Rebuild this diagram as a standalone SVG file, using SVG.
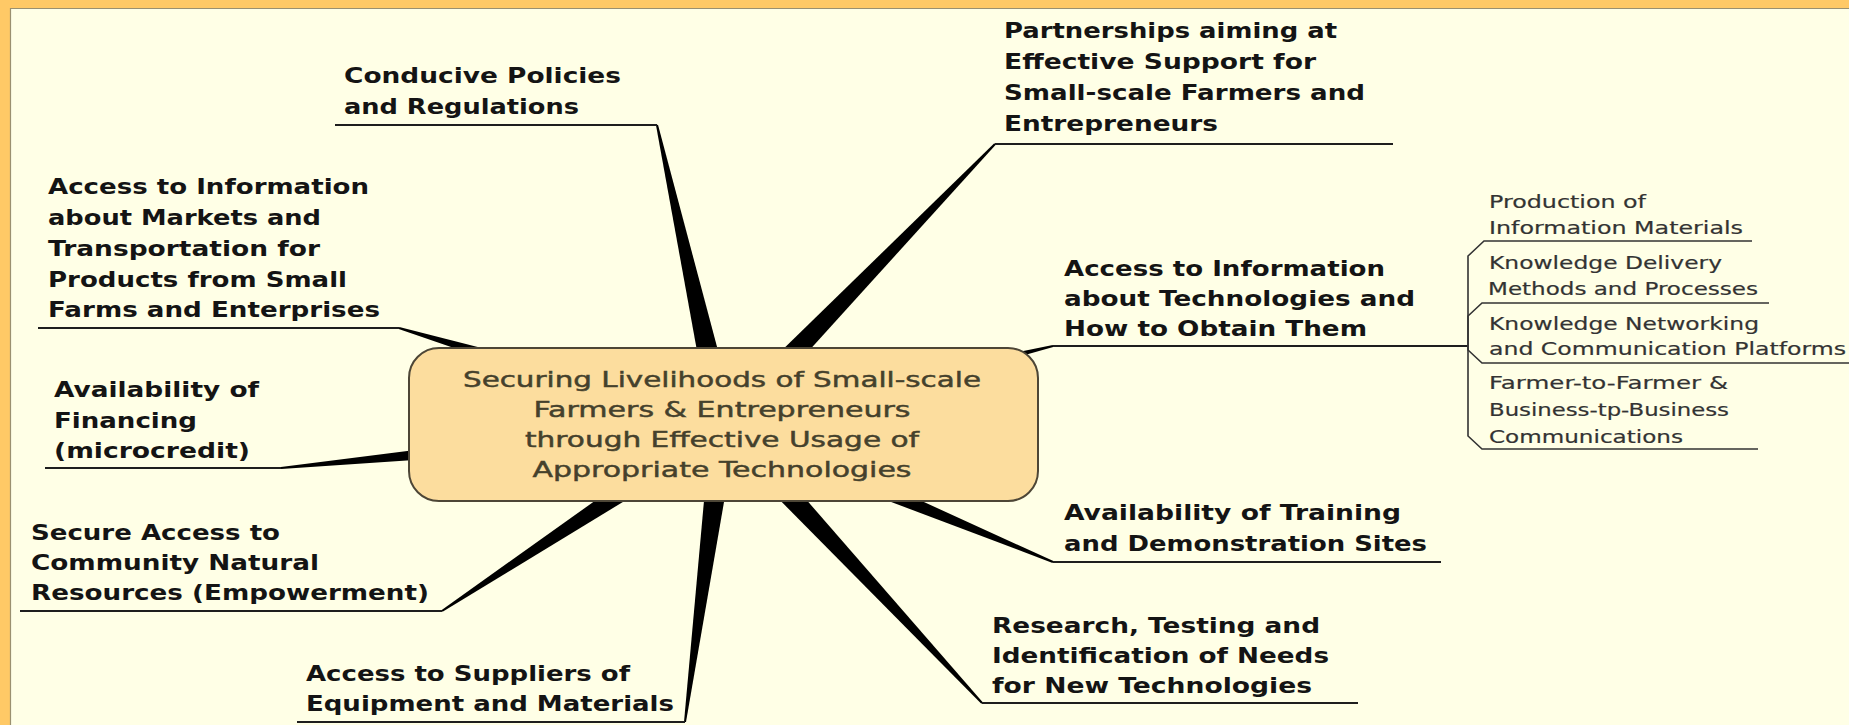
<svg xmlns="http://www.w3.org/2000/svg" width="1849" height="725" viewBox="0 0 1849 725">
<style>
.lbl{font-family:"DejaVu Sans","Liberation Sans",sans-serif;font-weight:bold;font-size:22px;fill:#141414}
.sub{font-family:"DejaVu Sans","Liberation Sans",sans-serif;font-size:18px;fill:#333;stroke:#333;stroke-width:0.2}
.ctr{font-family:"DejaVu Sans","Liberation Sans",sans-serif;font-size:21px;fill:#45412c;stroke:#45412c;stroke-width:0.45}
.ul{stroke:#1e1e1e;stroke-width:2;fill:none}
.br{stroke:#333;stroke-width:1.6;fill:none}
.spoke{fill:#000}
</style>
<rect x="0" y="0" width="1849" height="725" fill="#ffc966"/>
<rect x="11" y="9" width="1838" height="716" fill="#ffffe6"/>
<path d="M10.5 725 V8.5 H1849" stroke="#9a9070" stroke-width="1.2" fill="none"/>

<g id="connectors">
  <polygon class="spoke" points="656,125.2 658,124.8 737,422 711,428"/>
  <polygon class="spoke" points="994.3,143.3 995.7,144.7 733.4,434 714.6,416"/>
  <polygon class="spoke" points="1052.8,345 1053.2,347 727,438 721,412"/>
  <polygon class="spoke" points="398.7,329 399.3,327 728.3,410.6 719.7,439.4"/>
  <polygon class="spoke" points="280.9,467 281.1,469 725.4,439 722.6,411"/>
  <polygon class="spoke" points="441.4,610.2 442.6,611.8 731.2,436 716.8,414"/>
  <polygon class="spoke" points="684,721.9 686,722.1 737,426.7 711,423.3"/>
  <polygon class="spoke" points="1052.6,562.9 1053.4,561.1 729,413 719,437"/>
  <polygon class="spoke" points="981.3,703.7 982.7,702.3 733.5,416 714.5,434"/>
  <line class="ul" x1="335" y1="125" x2="657" y2="125"/>
  <line class="ul" x1="995" y1="144" x2="1393" y2="144"/>
  <line class="ul" x1="1053" y1="346" x2="1468" y2="346"/>
  <line class="ul" x1="38" y1="328" x2="399" y2="328"/>
  <line class="ul" x1="45" y1="468" x2="281" y2="468"/>
  <line class="ul" x1="20" y1="611" x2="442" y2="611"/>
  <line class="ul" x1="297" y1="722" x2="685" y2="722"/>
  <line class="ul" x1="1053" y1="562" x2="1441" y2="562"/>
  <line class="ul" x1="982" y1="703" x2="1358" y2="703"/>
  <path class="br" d="M1468 346 V256 L1484 241 H1752"/>
  <path class="br" d="M1468 346 V316 L1482 303 H1769"/>
  <path class="br" d="M1468 346 V350 L1482 363 H1849"/>
  <path class="br" d="M1468 346 V436 L1482 449 H1758"/>
</g>

<g id="center">
  <rect x="409" y="348" width="629" height="153" rx="30" ry="30" fill="#fcdd9e" stroke="#4d4636" stroke-width="2"/>
  <text class="ctr" x="463" y="387" textLength="518" lengthAdjust="spacingAndGlyphs">Securing Livelihoods of Small-scale</text>
  <text class="ctr" x="533.5" y="417" textLength="377" lengthAdjust="spacingAndGlyphs">Farmers &amp; Entrepreneurs</text>
  <text class="ctr" x="525" y="447" textLength="394" lengthAdjust="spacingAndGlyphs">through Effective Usage of</text>
  <text class="ctr" x="532.5" y="477" textLength="379" lengthAdjust="spacingAndGlyphs">Appropriate Technologies</text>
</g>

<g id="policies">
  <text class="lbl" x="344" y="83" textLength="277" lengthAdjust="spacingAndGlyphs">Conducive Policies</text>
  <text class="lbl" x="344" y="114" textLength="235" lengthAdjust="spacingAndGlyphs">and Regulations</text>
</g>

<g id="partnerships">
  <text class="lbl" x="1004" y="38" textLength="333" lengthAdjust="spacingAndGlyphs">Partnerships aiming at</text>
  <text class="lbl" x="1004" y="69" textLength="312" lengthAdjust="spacingAndGlyphs">Effective Support for</text>
  <text class="lbl" x="1004" y="100" textLength="361" lengthAdjust="spacingAndGlyphs">Small-scale Farmers and</text>
  <text class="lbl" x="1004" y="131" textLength="214" lengthAdjust="spacingAndGlyphs">Entrepreneurs</text>
</g>

<g id="tech-info">
  <text class="lbl" x="1064" y="276" textLength="321" lengthAdjust="spacingAndGlyphs">Access to Information</text>
  <text class="lbl" x="1064" y="306" textLength="351" lengthAdjust="spacingAndGlyphs">about Technologies and</text>
  <text class="lbl" x="1064" y="336" textLength="303" lengthAdjust="spacingAndGlyphs">How to Obtain Them</text>
</g>

<g id="sub-production">
  <text class="sub" x="1489" y="208" textLength="157" lengthAdjust="spacingAndGlyphs">Production of</text>
  <text class="sub" x="1489" y="234" textLength="254" lengthAdjust="spacingAndGlyphs">Information Materials</text>
</g>
<g id="sub-delivery">
  <text class="sub" x="1489" y="269" textLength="233" lengthAdjust="spacingAndGlyphs">Knowledge Delivery</text>
  <text class="sub" x="1488" y="295" textLength="270" lengthAdjust="spacingAndGlyphs">Methods and Processes</text>
</g>
<g id="sub-networking">
  <text class="sub" x="1489" y="330" textLength="270" lengthAdjust="spacingAndGlyphs">Knowledge Networking</text>
  <text class="sub" x="1489" y="355" textLength="357" lengthAdjust="spacingAndGlyphs">and Communication Platforms</text>
</g>
<g id="sub-f2f">
  <text class="sub" x="1489" y="389" textLength="239" lengthAdjust="spacingAndGlyphs">Farmer-to-Farmer &amp;</text>
  <text class="sub" x="1489" y="416" textLength="240" lengthAdjust="spacingAndGlyphs">Business-tp-Business</text>
  <text class="sub" x="1489" y="443" textLength="194" lengthAdjust="spacingAndGlyphs">Communications</text>
</g>

<g id="markets">
  <text class="lbl" x="48" y="194" textLength="321" lengthAdjust="spacingAndGlyphs">Access to Information</text>
  <text class="lbl" x="48" y="225" textLength="273" lengthAdjust="spacingAndGlyphs">about Markets and</text>
  <text class="lbl" x="48" y="256" textLength="272" lengthAdjust="spacingAndGlyphs">Transportation for</text>
  <text class="lbl" x="48" y="287" textLength="299" lengthAdjust="spacingAndGlyphs">Products from Small</text>
  <text class="lbl" x="48" y="317" textLength="332" lengthAdjust="spacingAndGlyphs">Farms and Enterprises</text>
</g>

<g id="financing">
  <text class="lbl" x="54" y="397" textLength="205" lengthAdjust="spacingAndGlyphs">Availability of</text>
  <text class="lbl" x="54" y="428" textLength="143" lengthAdjust="spacingAndGlyphs">Financing</text>
  <text class="lbl" x="54" y="458" textLength="196" lengthAdjust="spacingAndGlyphs">(microcredit)</text>
</g>

<g id="resources">
  <text class="lbl" x="31" y="540" textLength="249" lengthAdjust="spacingAndGlyphs">Secure Access to</text>
  <text class="lbl" x="31" y="570" textLength="288" lengthAdjust="spacingAndGlyphs">Community Natural</text>
  <text class="lbl" x="31" y="600" textLength="398" lengthAdjust="spacingAndGlyphs">Resources (Empowerment)</text>
</g>

<g id="suppliers">
  <text class="lbl" x="306" y="681" textLength="324" lengthAdjust="spacingAndGlyphs">Access to Suppliers of</text>
  <text class="lbl" x="306" y="711" textLength="368" lengthAdjust="spacingAndGlyphs">Equipment and Materials</text>
</g>

<g id="training">
  <text class="lbl" x="1064" y="520" textLength="337" lengthAdjust="spacingAndGlyphs">Availability of Training</text>
  <text class="lbl" x="1064" y="551" textLength="363" lengthAdjust="spacingAndGlyphs">and Demonstration Sites</text>
</g>

<g id="research">
  <text class="lbl" x="992" y="633" textLength="328" lengthAdjust="spacingAndGlyphs">Research, Testing and</text>
  <text class="lbl" x="992" y="663" textLength="337" lengthAdjust="spacingAndGlyphs">Identification of Needs</text>
  <text class="lbl" x="992" y="693" textLength="320" lengthAdjust="spacingAndGlyphs">for New Technologies</text>
</g>
</svg>
